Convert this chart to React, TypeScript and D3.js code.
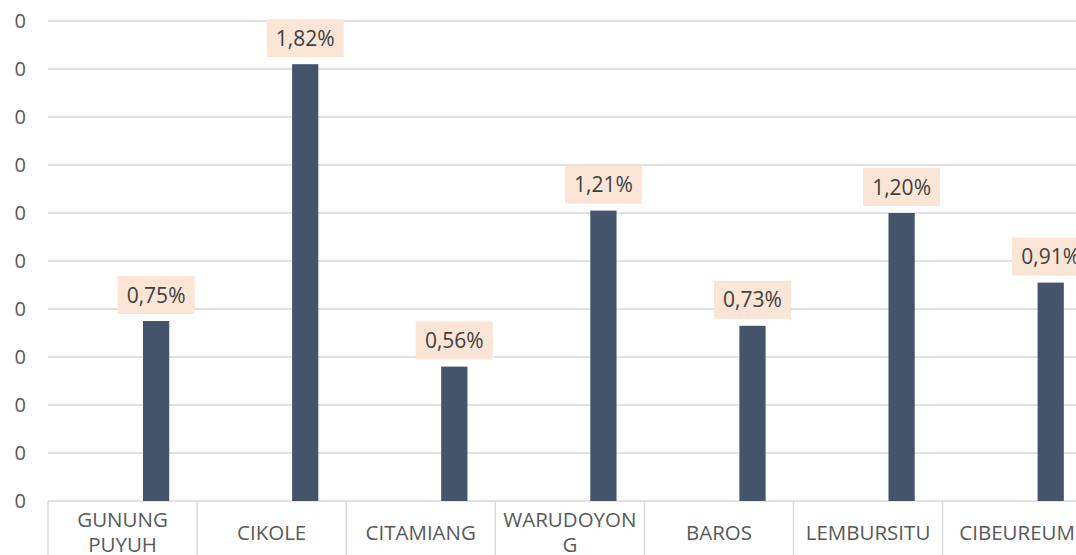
import React from "react";
import * as d3 from "d3";

const categories = ["GUNUNG PUYUH", "CIKOLE", "CITAMIANG", "WARUDOYONG", "BAROS", "LEMBURSITU", "CIBEUREUM"];
const categoryLines = [["GUNUNG", "PUYUH"], ["CIKOLE"], ["CITAMIANG"], ["WARUDOYON", "G"], ["BAROS"], ["LEMBURSITU"], ["CIBEUREUM"]];
const values = [0.75, 1.82, 0.56, 1.21, 0.73, 1.2, 0.91];
const valueLabels = ["0,75%", "1,82%", "0,56%", "1,21%", "0,73%", "1,20%", "0,91%"];
const yTicks = [0, 0.2, 0.4, 0.6, 0.8, 1.0, 1.2, 1.4, 1.6, 1.8, 2.0];
const yTickLabels = ["0", "0", "0", "0", "0", "0", "0", "0", "0", "0", "0"];

const W = 1076;
const H = 555;
const FONT = "'Open Sans', sans-serif";

export default function App() {
  const x = d3.scaleBand<string>().domain(categories).range([48, 48 + 7 * 149.1]).paddingInner(0).paddingOuter(0);
  const y = d3.scaleLinear().domain([0, 2]).range([501, 21]);
  const bw = x.bandwidth();
  const barW = bw * 0.176;
  const barOff = bw * 0.637;

  return (
    <div style={{ position: "fixed", left: 0, top: 0, width: W, height: H, background: "#fff" }}>
      <svg width={W} height={H} style={{ display: "block" }}>
        <rect width={W} height={H} fill="#fff" />
        {yTicks.map((t, i) => (
          <g key={i}>
            <line x1={48} x2={W + 20} y1={y(t)} y2={y(t)} stroke="#d9d9d9" strokeWidth={1.4} />
            <text x={26} y={y(t)} dy="0.35em" textAnchor="end" fontFamily={FONT} fontSize={20} fill="#595959">
              {yTickLabels[i]}
            </text>
          </g>
        ))}
        {categories.map((c, i) => (
          <line key={"s" + i} x1={x(c)!} x2={x(c)!} y1={y(0)} y2={H} stroke="#d9d9d9" strokeWidth={1.4} />
        ))}
        <line x1={48 + 7 * 149.1} x2={48 + 7 * 149.1} y1={y(0)} y2={H} stroke="#d9d9d9" strokeWidth={1.4} />
        {categories.map((c, i) => {
          const bx = x(c)! + barOff;
          return (
            <rect key={"b" + i} x={bx} y={y(values[i])} width={barW} height={y(0) - y(values[i])} fill="#44546a" />
          );
        })}
        {categories.map((c, i) => {
          const cx = x(c)! + barOff + barW / 2;
          const top = y(values[i]);
          const boxW = 77;
          const boxH = 38;
          const by = top - 7 - boxH;
          return (
            <g key={"l" + i}>
              <rect x={cx - boxW / 2} y={by} width={boxW} height={boxH} fill="#fbe5d6" />
              <text x={cx} y={by + boxH / 2} dy="0.36em" textAnchor="middle" fontFamily={FONT} fontSize={21} fill="#404040">
                {valueLabels[i]}
              </text>
            </g>
          );
        })}
        {categories.map((c, i) => {
          const lines = categoryLines[i];
          const cx = x(c)! + bw / 2;
          const lh = 25;
          const startY = 532.5 - ((lines.length - 1) * lh) / 2;
          return (
            <text key={"c" + i} textAnchor="middle" fontFamily={FONT} fontSize={20.5} fill="#595959">
              {lines.map((ln, j) => (
                <tspan key={j} x={cx} y={startY + j * lh} dy="0.35em">
                  {ln}
                </tspan>
              ))}
            </text>
          );
        })}
      </svg>
    </div>
  );
}
